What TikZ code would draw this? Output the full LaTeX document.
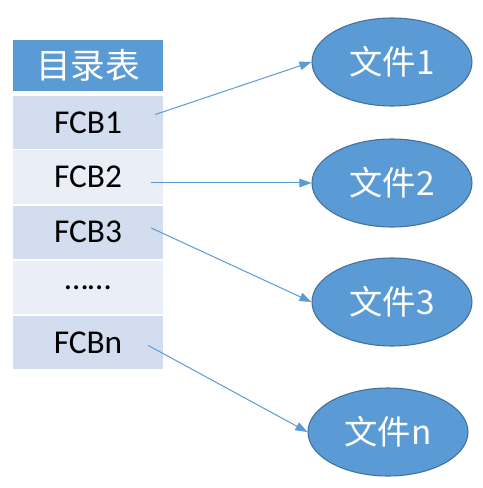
\documentclass[tikz,border=0pt]{standalone}
\usepackage{fontspec}
\setmainfont{Carlito}
\newfontfamily\cjk{Noto Sans CJK SC}
\usetikzlibrary{arrows.meta,calc,shapes.geometric}
\definecolor{hdblue}{HTML}{5B9BD5}
\definecolor{rowdark}{HTML}{D2DEEF}
\definecolor{rowlight}{HTML}{EAEFF7}
\definecolor{edgeblue}{HTML}{41719C}
\tikzset{
  header/.style={fill=hdblue, text=white, minimum width=112.5pt, minimum height=38.25pt, inner sep=0pt, font=\fontsize{26}{28}\selectfont\cjk},
  fcbrow/.style={minimum width=112.5pt, minimum height=39.75pt, inner sep=0pt, font=\fontsize{25}{28}\selectfont},
  filenode/.style={ellipse, draw=edgeblue, line width=0.8pt, fill=hdblue, text=white, minimum width=120pt, minimum height=66pt, inner sep=0pt, font=\fontsize{25}{28}\selectfont\cjk},
  link/.style={hdblue, line width=0.75pt, -{Triangle[length=9pt,width=6.5pt]}}
}
\begin{document}
\begin{tikzpicture}[x=0.75pt, y=-0.75pt]
  \useasboundingbox (0,0) rectangle (482,488);

  % table
  \node[header] (hd) at (88,65.5) {目录表};
  \node[fcbrow, fill=rowdark] (r1) at (88,122.5) {FCB1};
  \node[fcbrow, fill=rowlight] (r2) at (88,177) {FCB2};
  \node[fcbrow, fill=rowdark] (r3) at (88,232) {FCB3};
  \node[fcbrow, fill=rowlight] (r4) at (88,287.5) {……};
  \node[fcbrow, fill=rowdark] (r5) at (88,342.5) {FCBn};

  % files
  \node[filenode] (f1) at (392,62) {文件1};
  \node[filenode] (f2) at (392,183) {文件2};
  \node[filenode] (f3) at (392,302) {文件3};
  \node[filenode] (fn) at (388,432) {文件n};

  % pointers
  \draw[link] ($(r1.east)+(-8,-8)$) -- (f1.west);
  \draw[link] ($(r2.east)+(-12,6)$) -- (f2.west);
  \draw[link] ($(r3.east)+(-12,-4)$) -- (f3.west);
  \draw[link] ($(r5.east)+(-15,3)$) -- (fn.west);
\end{tikzpicture}
\end{document}
